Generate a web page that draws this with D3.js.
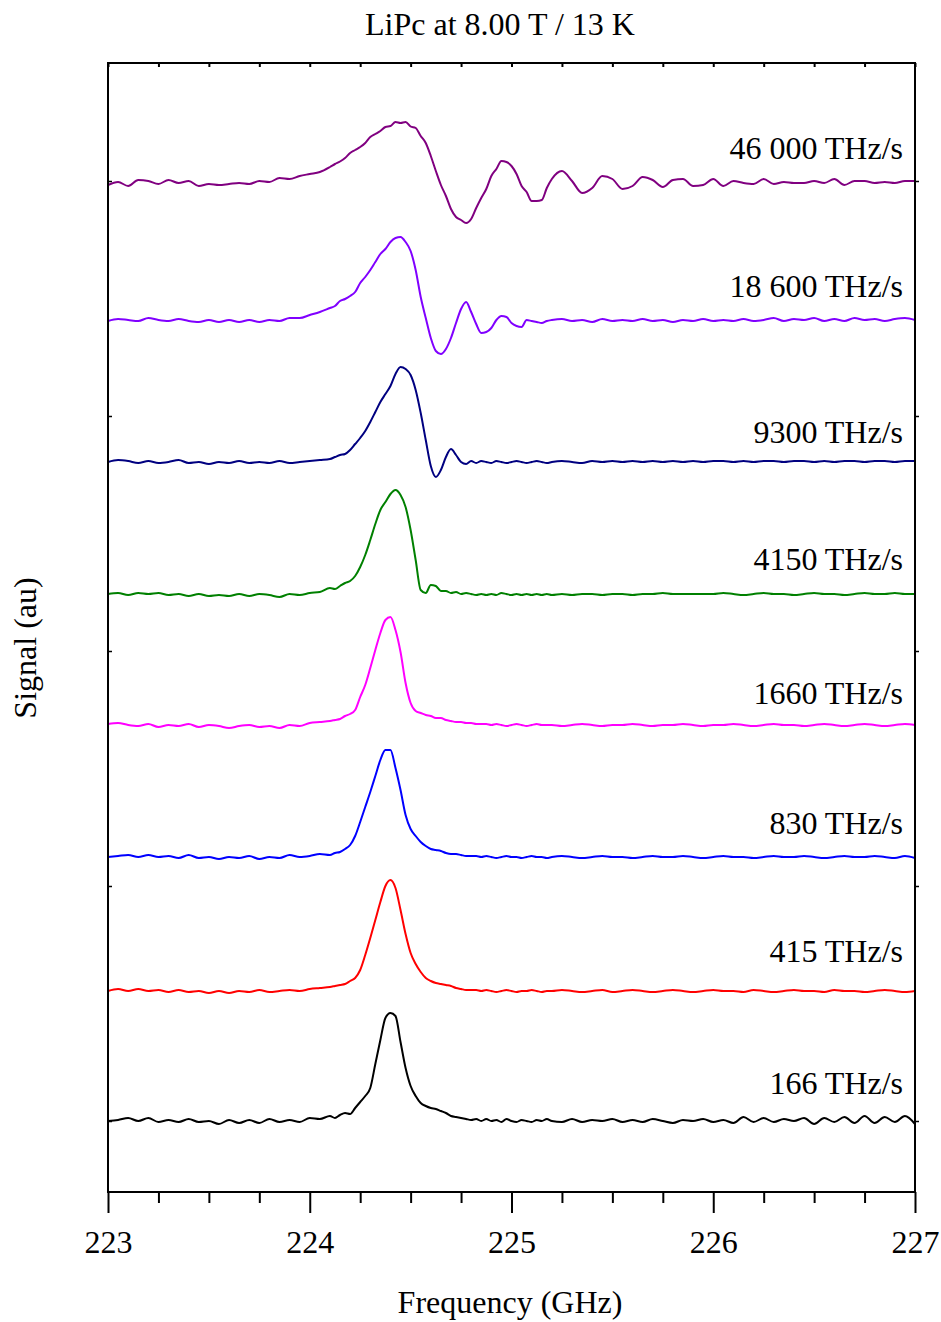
<!DOCTYPE html>
<html><head><meta charset="utf-8">
<script src="https://cdn.jsdelivr.net/npm/d3@7"></script>
<style>body{margin:0;background:#fff} text{font-family:"Liberation Serif","Times New Roman",serif;fill:#000}</style>
</head><body><svg id="chart" width="941" height="1322"></svg>
<script>
// Frequency grid (GHz)
const freq = [223.00,223.05,223.10,223.15,223.20,223.25,223.30,223.35,223.40,223.45,223.50,223.55,223.60,223.65,223.70,223.75,223.80,223.85,223.90,223.95,224.00,224.05,224.10,
224.125,224.15,224.175,224.20,224.225,224.25,224.275,224.30,224.325,224.35,224.375,224.40,224.425,224.45,224.475,224.50,224.525,224.55,224.575,224.60,224.625,224.65,224.675,224.70,224.725,224.75,224.775,224.80,224.825,224.85,224.875,224.90,224.925,224.95,224.975,225.00,225.025,225.05,225.075,225.10,225.125,225.15,225.175,
225.20,225.25,225.30,225.35,225.40,225.45,225.50,225.55,225.60,225.65,225.70,225.75,225.80,225.85,225.90,225.95,226.00,226.05,226.10,226.15,226.20,226.25,226.30,226.35,226.40,226.45,226.50,226.55,226.60,226.65,226.70,226.75,226.80,226.85,226.90,226.95,227.00];

// Signals (au), relative to each trace's own baseline
const s46000 = [-2,1,-3,3,2,-1,3,0,2,-3,-1,-2,-1,0,-1,2,1,5,4,7,9,11,16,
19,21.5,25,30,33,36,40,46,49,52,56,57,61,60,61,56.5,55,47,40,27,12,-2,-13,-26,-34,-37,-40,-36,-25,-15,-6,7,14,22,21,17,9,-3,-9,-18,-18,-17,-5,
4,12,2,-10,-5,7,4,-6,-3,6,3,-4,3,4,-3,-2,4,-3,2,0,-1,4,-1,1,0,0,2,0,4,-2,2,2,0,1,0,2,2];
const s18600 = [-1,1,0,-1,2,0,-1,1,-1,-2,0,-2,0,-2,0,-2,0,-1,2,2,5,8,12,
14,19,21,24,28,37,43,50,58,66,71,78,82,83,78,69,50,23,2,-18,-31,-34,-29,-18,-3,11,18,8,-4,-13,-12,-8,0,4,3,-3,-6,-7,0,-1,-2,-3,-1,
0,1,-1,0,-2,1,-1,0,-1,1,-1,0,-2,0,-1,1,-1,0,-1,1,-1,0,2,-1,1,0,2,-1,1,-1,2,0,1,-1,1,2,0];
const s9300 = [0,2,1,-1,1,-1,0,2,-1,0,-2,0,-1,1,-1,0,-1,1,-1,0,1,2,3,
5,7,8,12,18,24,31,40,50,60,68,76,88,95,93,87,72,49,22,-4,-15,-8,5,13,7,0,-2,1,-1,1,0,-1,1,0,-1,0,1,0,-1,0,1,0,-1,
0,1,0,-1,1,0,1,0,1,0,1,0,1,0,1,0,1,1,0,1,0,1,1,0,1,1,0,1,0,1,1,0,1,1,0,1,1];
const s4150 = [0,1,-1,1,0,1,-1,0,-2,0,-2,-1,-2,0,-2,0,-1,-3,0,-1,1,2,6,
5,8,11,13,18,27,39,54,70,84,92,100,104,99,87,64,34,4,1,9,8,3,3,1,2,0,1,0,-1,0,-1,0,-1,1,0,-1,0,-1,0,-1,0,-1,0,
-1,0,-1,0,0,-1,0,0,-1,0,0,1,0,0,0,0,0,1,0,-1,0,1,0,0,-1,0,1,0,0,-1,0,1,0,0,1,0,0];
const s1660 = [1,2,0,-1,1,-2,0,-1,1,-2,0,-1,-3,-1,0,-2,-1,-3,0,-1,2,3,4,
5,6,9,11,15,28,40,57,75,92,105,108,95,73,42,22,14,12,10,9,7,7,5,4,3,3,2,2,1,1,1,0,1,0,-1,0,1,0,-1,0,1,0,0,
0,-1,0,1,0,-1,0,0,1,0,-1,0,0,1,0,-1,0,0,1,0,-1,0,1,0,0,-1,0,1,0,-1,0,1,0,-1,0,1,0];
const s830 = [0,1,2,0,2,0,1,-1,2,-1,0,-2,0,-1,1,-2,0,-1,2,0,1,3,2,
4,5,8,12,21,35,50,65,81,97,107,107,89,67,42,28,21,15,11,8,7,6,4,3,3,2,1,1,1,0,1,0,-1,0,1,0,0,-1,0,1,0,0,-1,
0,1,0,-1,0,1,0,0,-1,0,1,0,0,1,0,-1,0,1,0,0,-1,0,1,0,0,1,0,-1,0,1,0,0,1,0,-1,1,-1];
const s415 = [0,2,0,2,0,1,-1,1,-1,0,-2,0,-2,0,-1,1,-1,0,1,0,2,3,4,
5,6,7,10,13,21,36,53,71,89,105,111,103,81,57,38,27,19,13,10,8,7,6,5,3,2,1,1,1,0,1,0,-1,0,1,0,-1,0,0,1,0,-1,0,
0,1,0,-1,0,1,-1,0,1,0,-1,0,1,0,-1,0,1,0,0,-1,1,0,-1,0,1,0,0,-1,1,0,0,-1,0,1,0,-1,0];
const s166 = [0,1,3,0,3,-1,1,-1,2,-1,0,-3,1,-2,1,-2,2,-1,1,-1,3,2,5,
3,6,8,7,13,19,25,33,57,81,103,108,105,79,53,35,25,18,15,13,12,10,8,5,4,3,2,1,2,0,2,0,1,-1,2,0,-1,1,0,-1,1,0,2,
0,-1,2,-1,1,0,2,-1,1,-1,2,0,-2,1,0,2,-1,1,-2,4,-1,3,-1,2,0,3,-3,3,-1,4,-2,5,-2,4,-1,5,-3];

const seriesNames = ["46 000 THz/s","18 600 THz/s","9300 THz/s","4150 THz/s","1660 THz/s","830 THz/s","415 THz/s","166 THz/s"];
const seriesValues = [s46000, s18600, s9300, s4150, s1660, s830, s415, s166];
const seriesOffsets = [938, 801, 659, 527, 396, 264, 130, 0];
const seriesColors = ["#800080","#8000FF","#000080","#008000","#FF00FF","#0000FF","#FF0000","#000000"];
const labelLift = [24, 23, 19, 24, 21, 23, 29, 27];

const xMajor = [223,224,225,226,227];
const xMinor = [223.25,223.5,223.75,224.25,224.5,224.75,225.25,225.5,225.75,226.25,226.5,226.75];
const xAll = [223,223.25,223.5,223.75,224,224.25,224.5,224.75,225,225.25,225.5,225.75,226,226.25,226.5,226.75,227];
const yTicks = [0,235,470,705,940];

const L=108, R=915, T=63, B=1192;
const svg = d3.select("#chart");
const x = d3.scaleLinear().domain([223,227]).range([L,R]);
const y = d3.scaleLinear().domain([-71,1058]).range([B,T]);
const FS = 32;

// traces
const line = d3.line().x(d=>x(d[0])).y(d=>y(d[1])).curve(d3.curveMonotoneX);
seriesValues.forEach((vals,i)=>{
  const pts = freq.map((f,j)=>[f, vals[j]+seriesOffsets[i]]);
  svg.append("path").attr("d", line(pts)).attr("fill","none")
    .attr("stroke", seriesColors[i]).attr("stroke-width",2).attr("stroke-linejoin","round");
  svg.append("text").attr("x", 903).attr("y", y(seriesOffsets[i]) - labelLift[i])
    .attr("text-anchor","end").attr("font-size",FS).text(seriesNames[i]);
});

// axes
function clean(g){ g.select(".domain").remove(); g.selectAll("line").attr("stroke","#000").attr("stroke-width",2); }
svg.append("g").attr("transform",`translate(0,${B})`)
  .call(d3.axisBottom(x).tickValues(xMajor).tickSize(21).tickPadding(17).tickFormat(d3.format("d")))
  .call(clean).call(g=>g.selectAll("text").attr("font-size",FS).attr("font-family",'"Liberation Serif","Times New Roman",serif'));
svg.append("g").attr("transform",`translate(0,${B})`)
  .call(d3.axisBottom(x).tickValues(xMinor).tickSize(11).tickFormat(""))
  .call(clean);
svg.append("g").attr("transform",`translate(0,${T})`)
  .call(d3.axisTop(x).tickValues(xAll).tickSize(-4).tickFormat(""))
  .call(clean);
svg.append("g").attr("transform",`translate(${L},0)`)
  .call(d3.axisLeft(y).tickValues(yTicks).tickSize(-4).tickFormat(""))
  .call(clean).call(g=>g.selectAll("line").attr("stroke-width",1.5));
svg.append("g").attr("transform",`translate(${R},0)`)
  .call(d3.axisRight(y).tickValues(yTicks).tickSize(4).tickFormat(""))
  .call(clean).call(g=>g.selectAll("line").attr("stroke-width",1.5));
svg.append("rect").attr("x",L).attr("y",T).attr("width",R-L).attr("height",B-T)
  .attr("fill","none").attr("stroke","#000").attr("stroke-width",2);

// titles
svg.append("text").attr("x",500).attr("y",35).attr("text-anchor","middle").attr("font-size",FS).text("LiPc at 8.00 T / 13 K");
svg.append("text").attr("x",510).attr("y",1313).attr("text-anchor","middle").attr("font-size",FS).text("Frequency (GHz)");
svg.append("text").attr("transform","translate(36,648) rotate(-90)").attr("text-anchor","middle").attr("font-size",FS).text("Signal (au)");
</script></body></html>
